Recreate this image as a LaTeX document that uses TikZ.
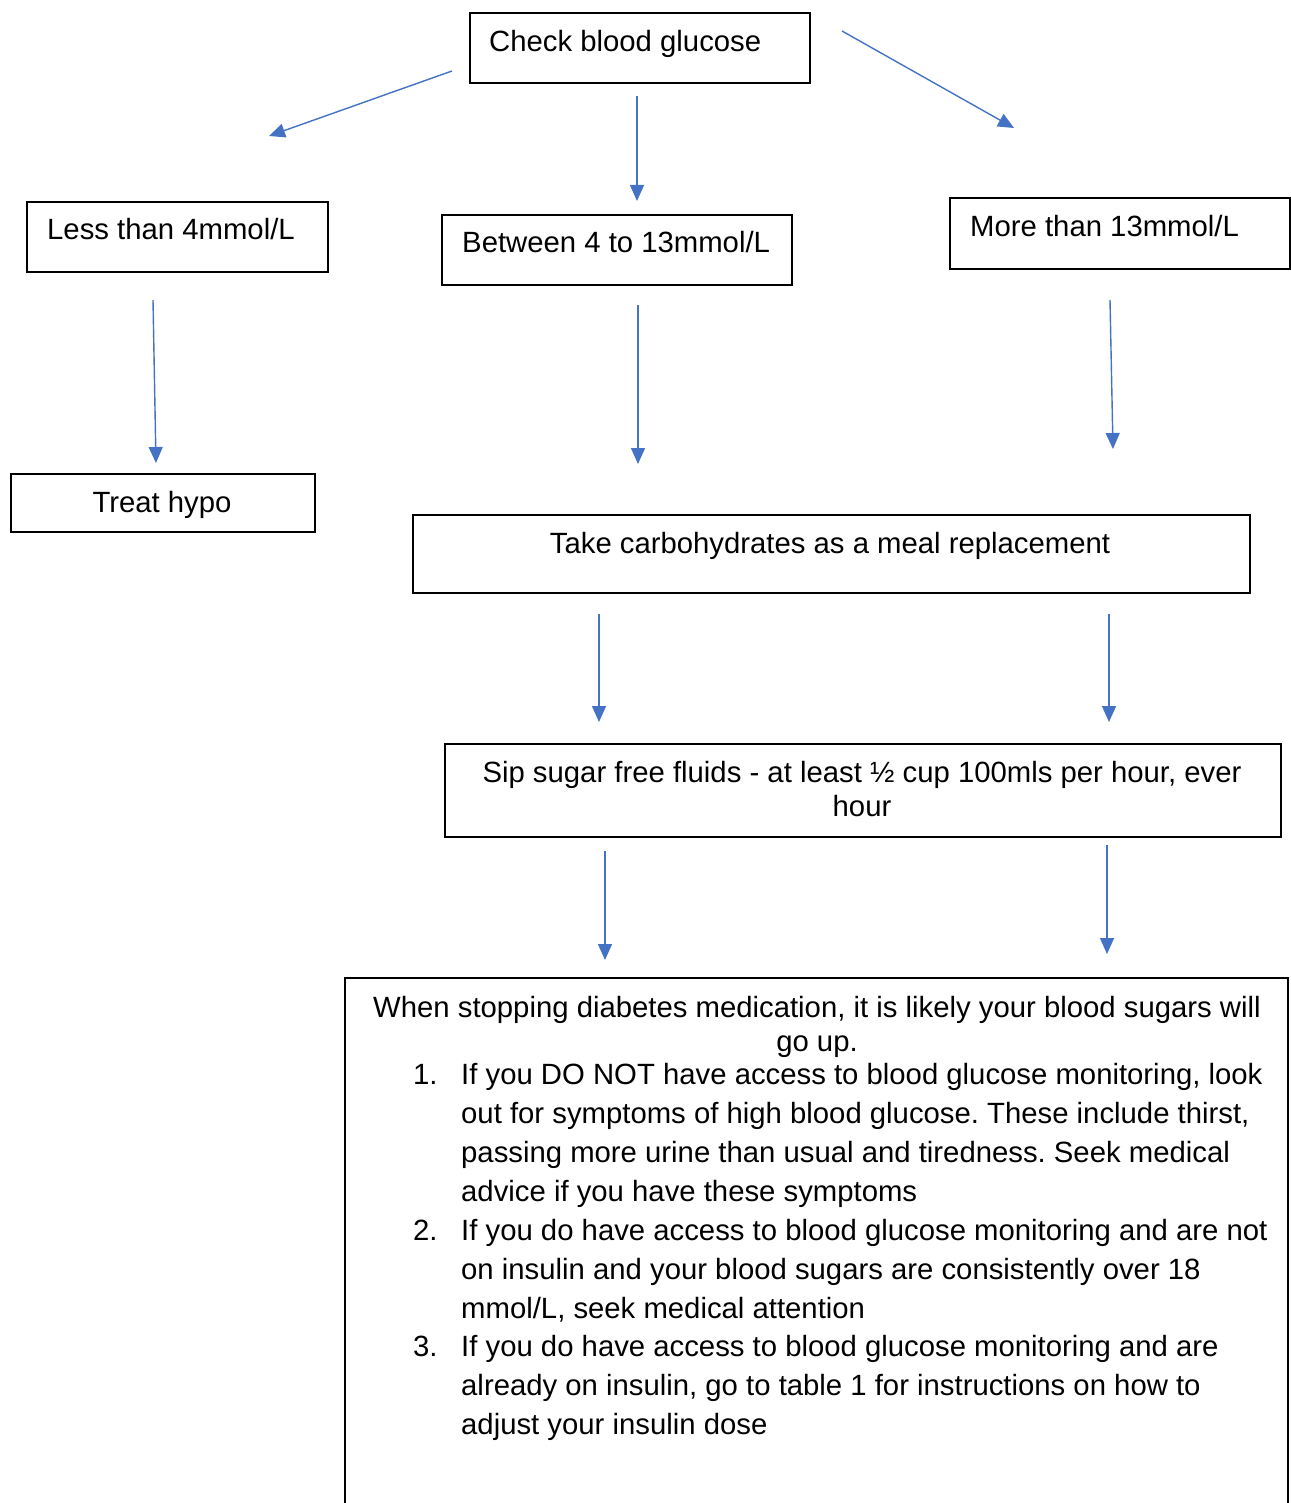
\documentclass[tikz,border=0pt]{standalone}
\usepackage{fontspec}
\setmainfont{Liberation Sans}
\usetikzlibrary{arrows.meta}
\definecolor{arrowblue}{HTML}{4472C4}
\frenchspacing
\tikzset{
  box/.style={draw=black, line width=1.8pt, inner sep=0pt, anchor=north west},
  txt/.style={inner sep=0pt, font=\fontsize{29.3pt}{39pt}\selectfont\frenchspacing},
  arr/.style={draw=arrowblue, line width=1.4pt, -{Triangle[length=16pt,width=14pt]}}
}
\begin{document}
\begin{tikzpicture}[x=1pt,y=-1pt]
\useasboundingbox (0,0) rectangle (1290,1503);
% boxes
\node[box, minimum width=340pt, minimum height=70pt] (bCheck) at (469,12) {};
\node[box, minimum width=301pt, minimum height=70pt] (bLess) at (26,201) {};
\node[box, minimum width=350pt, minimum height=70pt] (bBetween) at (441,214) {};
\node[box, minimum width=340pt, minimum height=71pt] (bMore) at (949,197) {};
\node[box, minimum width=304pt, minimum height=58pt] (bHypo) at (10,473) {};
\node[box, minimum width=837pt, minimum height=78pt] (bCarb) at (412,514) {};
\node[box, minimum width=836pt, minimum height=93pt] (bSip) at (444,743) {};
\coordinate (bl) at (345,1503);
\coordinate (tl) at (345,978);
\coordinate (tr) at (1288,978);
\coordinate (br) at (1288,1503);
\draw[line width=1.8pt] (bl) -- (tl) -- (tr) -- (br);
% texts
\node[txt, anchor=base west] (tCheck) at (489,52) {Check blood glucose};
\node[txt, anchor=base west] (tLess) at (47,240) {Less than 4mmol/L};
\node[txt, anchor=base west] (tBetween) at (462,253) {Between 4 to 13mmol/L};
\node[txt, anchor=base west] (tMore) at (970,237) {More than 13mmol/L};
\node[txt, anchor=base] (tHypo) at (162,512) {Treat hypo};
\node[txt, anchor=base] (tCarb) at (830,553) {Take carbohydrates as a meal replacement};
\node[txt, anchor=base] (tSip1) at (862,782) {Sip sugar free fluids - at least ½ cup 100mls per hour, ever};
\node[txt, anchor=base] (tSip2) at (862,816) {hour};
\node[txt, anchor=base] (tW1) at (817,1017) {When stopping diabetes medication, it is likely your blood sugars will};
\node[txt, anchor=base] (tW2) at (817,1051) {go up.};
\node[txt, anchor=base west] (n1) at (413,1084) {1.};
\node[txt, anchor=base west] (l1a) at (461,1084) {If you DO NOT have access to blood glucose monitoring, look};
\node[txt, anchor=base west] (l1b) at (461,1123) {out for symptoms of high blood glucose. These include thirst,};
\node[txt, anchor=base west] (l1c) at (461,1162) {passing more urine than usual and tiredness. Seek medical};
\node[txt, anchor=base west] (l1d) at (461,1201) {advice if you have these symptoms};
\node[txt, anchor=base west] (n2) at (413,1240) {2.};
\node[txt, anchor=base west] (l2a) at (461,1240) {If you do have access to blood glucose monitoring and are not};
\node[txt, anchor=base west] (l2b) at (461,1279) {on insulin and your blood sugars are consistently over 18};
\node[txt, anchor=base west] (l2c) at (461,1318) {mmol/L, seek medical attention};
\node[txt, anchor=base west] (n3) at (413,1356) {3.};
\node[txt, anchor=base west] (l3a) at (461,1356) {If you do have access to blood glucose monitoring and are};
\node[txt, anchor=base west] (l3b) at (461,1395) {already on insulin, go to table 1 for instructions on how to};
\node[txt, anchor=base west] (l3c) at (461,1434) {adjust your insulin dose};
% arrow end points
\coordinate (a1s) at (452,71);   \coordinate (a1e) at (269,136);
\coordinate (a2s) at (637,96);   \coordinate (a2e) at (637,201);
\coordinate (a3s) at (842,31);   \coordinate (a3e) at (1014,128);
\coordinate (a4s) at (153,300);  \coordinate (a4e) at (156,463);
\coordinate (a5s) at (638,305);  \coordinate (a5e) at (638,464);
\coordinate (a6s) at (1110,300); \coordinate (a6e) at (1113,449);
\coordinate (a7s) at (599,614);  \coordinate (a7e) at (599,722);
\coordinate (a8s) at (1109,614); \coordinate (a8e) at (1109,722);
\coordinate (a9s) at (605,851);  \coordinate (a9e) at (605,960);
\coordinate (a10s) at (1107,845); \coordinate (a10e) at (1107,954);
\draw[arr] (a1s) -- (a1e);
\draw[arr] (a2s) -- (a2e);
\draw[arr] (a3s) -- (a3e);
\draw[arr] (a4s) -- (a4e);
\draw[arr] (a5s) -- (a5e);
\draw[arr] (a6s) -- (a6e);
\draw[arr] (a7s) -- (a7e);
\draw[arr] (a8s) -- (a8e);
\draw[arr] (a9s) -- (a9e);
\draw[arr] (a10s) -- (a10e);
\end{tikzpicture}
\end{document}
